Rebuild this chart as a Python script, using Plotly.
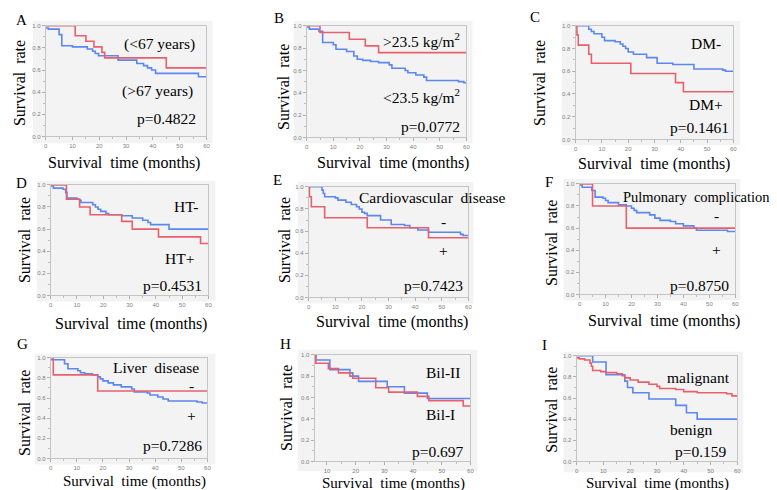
import plotly.graph_objects as go

W, H = 777, 490

# ---------------- data (months, survival rate) ----------------
A_red_t = [0, 11, 15, 18, 21, 22, 45, 60]
A_red_s = [1.0, 0.91, 0.86, 0.81, 0.76, 0.71, 0.62, 0.62]
A_blue_t = [0, 1, 5, 6, 10, 15.5, 17.5, 18.5, 19.7, 27, 34, 36.5, 38, 39.5, 41, 57, 60]
A_blue_s = [0.98, 0.97, 0.92, 0.82, 0.81, 0.79, 0.77, 0.75, 0.73, 0.69, 0.66, 0.64, 0.62, 0.60, 0.57, 0.54, 0.54]

B_red_t = [0, 5, 16, 22, 27, 60]
B_red_s = [1.0, 0.94, 0.88, 0.82, 0.76, 0.76]
B_blue_t = [0, 1, 4.6, 6, 10, 11, 15, 17.7, 19, 21, 24, 27, 31, 32, 37, 38, 41, 44, 45, 57, 59, 60]
B_blue_s = [0.99, 0.97, 0.95, 0.85, 0.83, 0.79, 0.77, 0.73, 0.70, 0.69, 0.68, 0.67, 0.65, 0.62, 0.60, 0.58, 0.56, 0.54, 0.51, 0.50, 0.49, 0.49]

C_red_t = [0, 0.5, 1, 5, 6, 21, 38, 41, 60]
C_red_s = [1.0, 0.92, 0.83, 0.75, 0.67, 0.58, 0.50, 0.42, 0.42]
C_blue_t = [0, 5, 6, 7, 10, 11, 15, 17, 18, 19, 20, 22, 27, 31, 37, 45, 56, 57, 60]
C_blue_s = [1.0, 0.97, 0.95, 0.93, 0.90, 0.87, 0.86, 0.84, 0.82, 0.80, 0.77, 0.75, 0.72, 0.67, 0.66, 0.62, 0.61, 0.60, 0.60]

D_red_t = [0, 6, 11, 15, 27, 31, 41, 57, 60]
D_red_s = [1.0, 0.87, 0.80, 0.73, 0.67, 0.60, 0.53, 0.47, 0.47]
D_blue_t = [0, 1, 4.7, 5.7, 6.2, 10, 11, 11.5, 16, 17, 18, 19, 21, 22, 27, 31, 35, 37, 38, 45, 60]
D_blue_s = [0.99, 0.97, 0.96, 0.93, 0.88, 0.87, 0.86, 0.84, 0.82, 0.80, 0.78, 0.76, 0.74, 0.73, 0.72, 0.70, 0.68, 0.66, 0.64, 0.60, 0.60]

E_red_t = [0, 0.3, 1, 6, 22, 45, 60]
E_red_s = [1.0, 0.91, 0.82, 0.72, 0.63, 0.54, 0.54]
E_blue_t = [0, 5, 5.5, 6, 10, 11, 14, 16, 18, 19, 20, 21, 22, 27, 31, 36, 38, 41, 45, 57, 58, 60]
E_blue_s = [1.0, 0.97, 0.94, 0.91, 0.90, 0.88, 0.86, 0.84, 0.82, 0.80, 0.77, 0.76, 0.74, 0.70, 0.66, 0.65, 0.63, 0.61, 0.59, 0.57, 0.56, 0.56]

F_red_t = [0, 5, 18, 60]
F_red_s = [1.0, 0.80, 0.60, 0.60]
F_blue_t = [0, 1, 4.7, 6, 9, 10, 11, 15, 18, 20, 21, 22, 27, 29, 31, 35, 37, 40, 44, 45, 57, 60]
F_blue_s = [0.99, 0.97, 0.94, 0.88, 0.87, 0.85, 0.83, 0.81, 0.80, 0.78, 0.76, 0.74, 0.72, 0.69, 0.67, 0.66, 0.64, 0.62, 0.60, 0.58, 0.57, 0.57]

G_red_t = [0, 1, 18, 60]
G_red_s = [1.0, 0.83, 0.67, 0.67]
G_blue_t = [0, 5.3, 6.6, 10.4, 11.4, 13, 16, 18, 19, 20, 22, 24, 27, 31, 32, 37, 38, 41, 43, 45, 56, 58, 60]
G_blue_s = [0.98, 0.94, 0.89, 0.87, 0.85, 0.84, 0.83, 0.81, 0.79, 0.77, 0.75, 0.73, 0.71, 0.69, 0.66, 0.65, 0.63, 0.61, 0.59, 0.57, 0.56, 0.55, 0.55]

H_red_t = [6, 6.1, 10.5, 14, 18, 19, 27, 31.5, 41.5, 45.5, 57.5, 60]
H_red_s = [1.0, 0.92, 0.87, 0.83, 0.80, 0.78, 0.69, 0.65, 0.61, 0.57, 0.52, 0.52]
H_blue_t = [6, 6.1, 11, 18, 19, 21, 31, 37, 45, 60]
H_blue_s = [1.0, 0.95, 0.86, 0.83, 0.80, 0.75, 0.70, 0.64, 0.59, 0.59]

I_red_t = [0, 1, 3, 5, 5.5, 6, 9, 11, 15, 17, 18, 20, 23, 27, 30, 31, 37, 40, 45, 56, 58, 60]
I_red_s = [0.98, 0.97, 0.96, 0.93, 0.90, 0.86, 0.85, 0.84, 0.83, 0.81, 0.79, 0.77, 0.75, 0.73, 0.71, 0.69, 0.68, 0.66, 0.65, 0.64, 0.62, 0.62]
I_blue_t = [0, 6, 11, 18, 19, 21, 27, 37, 41, 45, 60]
I_blue_s = [1.0, 0.94, 0.82, 0.76, 0.70, 0.65, 0.59, 0.53, 0.46, 0.40, 0.40]

panel_letters = ["A", "B", "C", "D", "E", "F", "G", "H", "I"]
p_values = ["p=0.4822", "p=0.0772", "p=0.1461", "p=0.4531", "p=0.7423",
            "p=0.8750", "p=0.7286", "p=0.697", "p=0.159"]
x_ticks = [0, 10, 20, 30, 40, 50, 60]
y_ticks = [0.0, 0.2, 0.4, 0.6, 0.8, 1.0]

RED = "#e8606c"
BLUE = "#5b87f0"
SERIF = "Liberation Serif, Times New Roman, serif"

# ---------------- layout (pixel boxes) ----------------
panels = [
    dict(plot=(36, 198, 15, 127), box=(23, 204, 10, 134), xr=[0, 60], red=(A_red_t, A_red_s), blue=(A_blue_t, A_blue_s)),
    dict(plot=(299, 460, 15, 128), box=(286, 466, 10, 134), xr=[0, 60], red=(B_red_t, B_red_s), blue=(B_blue_t, B_blue_s)),
    dict(plot=(570, 729, 15, 130), box=(556, 736, 10, 136), xr=[0, 60], red=(C_red_t, C_red_s), blue=(C_blue_t, C_blue_s)),
    dict(plot=(41, 200, 176, 288), box=(27, 207, 172, 294), xr=[0, 60], red=(D_red_t, D_red_s), blue=(D_blue_t, D_blue_s)),
    dict(plot=(301, 462, 178, 290), box=(290, 467, 173, 296), xr=[0, 60], red=(E_red_t, E_red_s), blue=(E_blue_t, E_blue_s)),
    dict(plot=(574, 731, 175, 287), box=(558, 736, 170, 293), xr=[0, 60], red=(F_red_t, F_red_s), blue=(F_blue_t, F_blue_s)),
    dict(plot=(41, 199, 351, 453), box=(25, 207, 347, 459), xr=[0, 60], red=(G_red_t, G_red_s), blue=(G_blue_t, G_blue_s)),
    dict(plot=(307, 464, 348, 456), box=(290, 471, 343, 466), xr=[5.7, 60], red=(H_red_t, H_red_s), blue=(H_blue_t, H_blue_s)),
    dict(plot=(571, 733, 349, 456), box=(558, 739, 345, 467), xr=[0, 60], red=(I_red_t, I_red_s), blue=(I_blue_t, I_blue_s)),
]

# text positions (pixel centres)
letter_pos = [(12, 9), (271, 7), (529, 6), (12, 174), (270, 171), (543, 173), (13, 337), (278, 337), (539, 338)]
p_pos = [(158, 109), (424, 117), (695, 118), (164, 278), (427, 278), (695, 278), (164, 440), (431, 446), (696, 446)]
ylab_pos = [(9, 73), (275, 77), (533, 73), (14, 232), (276, 232), (545, 235), (14, 407), (278, 402), (545, 404)]
xlab_pos = [(115, 154), (386, 154), (649, 155), (122, 317), (385, 315), (659, 314), (125, 476), (386, 478), (653, 478)]

group_labels = [
    ("(<67 years)", 151, 33, 15.5), ("(>67 years)", 149, 81, 15.5),
    (">23.5 kg/m<sup>2</sup>", 415, 29, 15.5), ("<23.5 kg/m<sup>2</sup>", 415, 86, 15.5),
    ("DM-", 701, 33, 15.5), ("DM+", 701, 95, 15.5),
    ("HT-", 177, 198, 15.5), ("HT+", 171, 251, 15.5),
    ("Cardiovascular  disease", 425, 189, 15.5), ("-", 437, 213, 15.5), ("+", 437, 242, 15.5),
    ("Pulmonary  complication", 692, 188, 14.5), ("-", 712, 207, 15.5), ("+", 712, 241, 15.5),
    ("Liver  disease", 147, 361, 15.5), ("-", 183, 379, 15.5), ("+", 183, 410, 15.5),
    ("Bil-II", 436, 366, 15.5), ("Bil-I", 434, 408, 15.5),
    ("malignant", 694, 371, 15.5), ("benign", 686, 424, 15.5),
]


def px_x(x):
    return x / W


def px_y(y):
    return 1 - y / H


fig = go.Figure()
layout = dict(
    width=W, height=H, margin=dict(l=0, r=0, t=0, b=0),
    paper_bgcolor="white", plot_bgcolor="white", showlegend=False,
    shapes=[], annotations=[],
)

for i, p in enumerate(panels):
    k = "" if i == 0 else str(i + 1)
    x0, x1, y0, y1 = p["plot"]
    for (t, s), col in ((p["blue"], BLUE), (p["red"], RED)):
        fig.add_trace(go.Scatter(
            x=t, y=s, mode="lines", line=dict(color=col, width=1.6, shape="hv"),
            xaxis="x" + k, yaxis="y" + k, hoverinfo="skip"))
    axis_common = dict(
        showgrid=False, zeroline=False, showline=True, linecolor="#c4c4c4",
        linewidth=1, mirror=True, ticks="outside", ticklen=3, tickcolor="#b0b0b0",
        tickfont=dict(family="Liberation Sans, Arial", size=6, color="#808080"),
        fixedrange=True,
    )
    layout["xaxis" + k] = dict(
        axis_common, domain=[px_x(x0), px_x(x1)], range=p["xr"], tickvals=x_ticks,
        anchor="y" + k, minor=dict(ticks="outside", ticklen=2, dtick=5, tickcolor="#c0c0c0"),
    )
    layout["yaxis" + k] = dict(
        axis_common, domain=[px_y(y1), px_y(y0)], range=[0, 1.0], tickvals=y_ticks,
        tickformat=".1f", anchor="x" + k,
        minor=dict(ticks="outside", ticklen=2, dtick=0.1, tickcolor="#c0c0c0"),
    )
    bx0, bx1, by0, by1 = p["box"]
    layout["shapes"].append(dict(
        type="rect", xref="paper", yref="paper", layer="below",
        x0=px_x(bx0), x1=px_x(bx1), y0=px_y(by1), y1=px_y(by0),
        fillcolor="#f3f3f3", line=dict(width=0)))


def ann(text, x, y, size=14, angle=0):
    layout["annotations"].append(dict(
        text=text, x=px_x(x), y=px_y(y), xref="paper", yref="paper",
        xanchor="center", yanchor="middle", showarrow=False, textangle=angle,
        font=dict(family=SERIF, size=size, color="black")))


for i in range(9):
    ann(panel_letters[i], *letter_pos[i], size=15)
    ann(p_values[i], *p_pos[i], size=15.5)
    ann("Survival  rate", *ylab_pos[i], size=16, angle=-90)
    ann("Survival  time (months)", *xlab_pos[i], size=16 if i < 6 else 15)
for text, x, y, sz in group_labels:
    ann(text, x, y, size=sz)

fig.update_layout(**layout)
fig.write_html("out.html")
